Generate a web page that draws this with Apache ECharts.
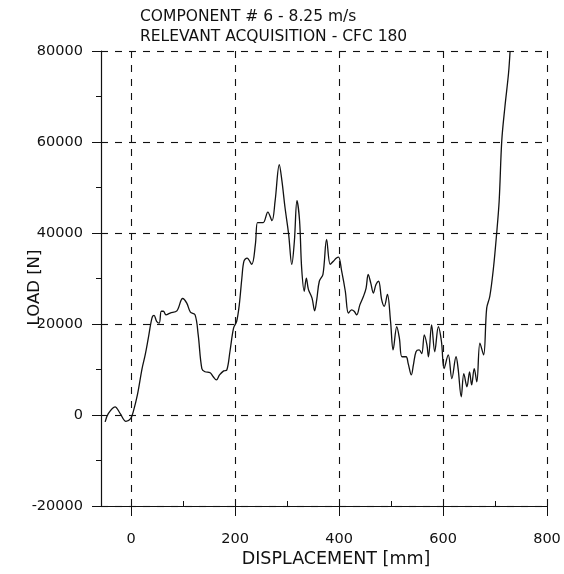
<!DOCTYPE html>
<html>
<head>
<meta charset="utf-8">
<script src="https://cdn.jsdelivr.net/npm/echarts@6/dist/echarts.min.js"></script>
<style>
  html, body { margin: 0; padding: 0; background: #fff; }
  #chart { width: 564px; height: 574px; }
</style>
</head>
<body>
<div id="chart"></div>
<script>
// Load vs displacement trace, CFC 180 filtered
const displacement = [
  -50, -44, -31, -21, -10, -1, 4, 12, 21, 27, 33, 40, 44, 49, 54, 58, 62, 67, 75, 88,
  99, 107, 114, 123, 129, 136, 142, 152, 158, 164, 170, 178, 184, 190, 197, 203, 208, 213, 217, 223,
  232, 239, 243, 248, 254, 263, 271, 277, 285, 290, 296, 303, 309, 314, 319, 324, 328, 333, 337, 341,
  348, 353, 357, 362, 369, 376, 383, 389, 395, 399, 405, 412, 418, 424, 429, 434, 440, 447, 452, 456,
  461, 466, 471, 476, 482, 487, 493, 499, 504, 511, 516, 521, 529, 533, 539, 543, 548, 554, 559, 564,
  569, 572, 578, 584, 591, 597, 602, 610, 617, 625, 629, 635, 640, 646, 651, 655, 660, 665, 671, 678,
  684, 690, 697, 703, 708, 713, 719, 726, 729
];
const load = [
  -1500, 300, 1800, 300, -1400, -800, 700, 4400, 10200, 13200, 16900, 21300, 21900, 20600, 20200, 22800, 22800, 22000, 22400, 22900,
  25600, 24600, 22600, 22000, 17600, 10200, 9500, 9300, 8400, 7700, 8800, 9700, 9900, 13900, 19100, 20600, 24200, 30100, 33800, 34500,
  33100, 37500, 42300, 42300, 42300, 44600, 42700, 47100, 55000, 51500, 45600, 39700, 33100, 38200, 47100, 42700, 32300, 27200, 30100, 27600,
  25700, 22900, 25300, 29400, 30900, 38600, 33100, 33800, 34500, 34700, 31600, 27200, 22400, 23100, 22800, 22000, 24200, 26100, 27900, 30900,
  29000, 26800, 28700, 29400, 25300, 23900, 26500, 20600, 14300, 19400, 16900, 12800, 12800, 11300, 8800, 11000, 13900, 14300, 13500, 17600,
  15400, 12800, 19800, 13900, 19400, 16100, 10200, 13200, 8000, 12800, 10200, 4000, 9100, 6200, 9500, 6600, 10200, 7300, 15800, 13200,
  23500, 26100, 32300, 39700, 47100, 60300, 67700, 75100, 80000
];
const xTickValues = [0, 200, 400, 600, 800];
const xMinorValues = [100, 300, 500, 700];
const titleLines = ['COMPONENT # 6 - 8.25 m/s', 'RELEVANT ACQUISITION - CFC 180'];

const points = displacement.map((d, i) => [d, load[i]]);

const FONT = 'DejaVu Sans';
const INK = '#111';

const chart = echarts.init(document.getElementById('chart'), null, { renderer: 'canvas' });

chart.setOption({
  backgroundColor: '#fff',
  animation: false,
  title: {
    text: titleLines.join('\n'),
    left: 135,
    top: 2,
    textStyle: { fontFamily: FONT, fontSize: 15.5, fontWeight: 'normal', color: INK, lineHeight: 20 }
  },
  grid: { left: 101, right: 17, top: 51, bottom: 68, outerBoundsMode: 'none', containLabel: false },
  xAxis: [
    {
      type: 'value',
      min: -58,
      max: 800,
      name: 'DISPLACEMENT [mm]',
      nameLocation: 'middle',
      nameGap: 44,
      nameMoveOverlap: false,
      nameTextStyle: { fontFamily: FONT, fontSize: 17.5, color: INK, padding: [0, 0, 0, 24] },
      axisLine: { onZero: false, lineStyle: { color: INK, width: 1.2 } },
      axisTick: { customValues: xTickValues, length: 10, lineStyle: { color: INK, width: 1 } },
      axisLabel: { customValues: xTickValues, margin: 26, fontFamily: FONT, fontSize: 14.5, color: INK },
      splitLine: { show: true, lineStyle: { color: INK, width: 1.1, type: [7, 7] } }
    },
    {
      type: 'value',
      min: -58,
      max: 800,
      position: 'bottom',
      axisLine: { show: false, onZero: false },
      axisTick: { customValues: xMinorValues, inside: true, length: 5, lineStyle: { color: INK, width: 1 } },
      axisLabel: { show: false },
      splitLine: { show: false }
    }
  ],
  yAxis: {
    type: 'value',
    min: -20000,
    max: 80000,
    interval: 20000,
    name: 'LOAD [N]',
    nameLocation: 'middle',
    nameGap: 58,
    nameMoveOverlap: false,
    nameTextStyle: { fontFamily: FONT, fontSize: 16.5, color: INK, padding: [0, 18, 0, 0] },
    axisLine: { show: true, onZero: false, lineStyle: { color: INK, width: 1.2 } },
    axisTick: { show: true, length: 9, lineStyle: { color: INK, width: 1 } },
    minorTick: { show: true, splitNumber: 2, length: 5, lineStyle: { color: INK, width: 1 } },
    axisLabel: { margin: 18, fontFamily: FONT, fontSize: 14.5, color: INK, formatter: v => String(v) },
    splitLine: { show: true, lineStyle: { color: INK, width: 1.1, type: [7, 7] } }
  },
  series: [{
    type: 'line',
    data: points,
    showSymbol: false,
    smooth: 0.35,
    clip: true,
    lineStyle: { color: INK, width: 1.3 }
  }]
});
</script>
</body>
</html>
